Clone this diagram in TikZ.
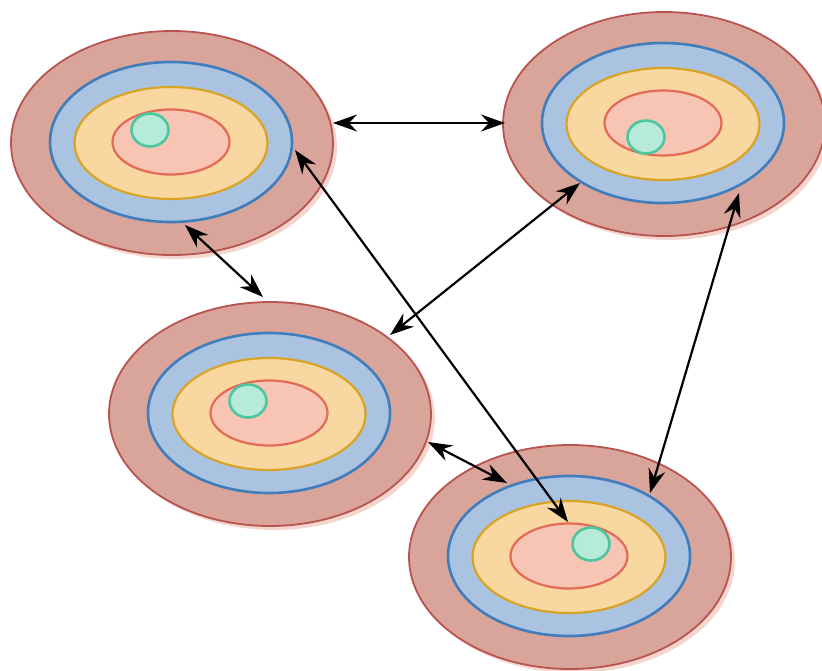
\documentclass[tikz,border=0pt]{standalone}
\usetikzlibrary{arrows.meta,shapes.geometric,calc}
\definecolor{ringO}{HTML}{D9A499}
\definecolor{ringOd}{HTML}{B85450}
\definecolor{ringB}{HTML}{A9C3E0}
\definecolor{ringBd}{HTML}{3F7DBD}
\definecolor{ringY}{HTML}{F8D7A0}
\definecolor{ringYd}{HTML}{D9A426}
\definecolor{ringR}{HTML}{F8C4B4}
\definecolor{ringRd}{HTML}{E26A56}
\definecolor{dotT}{HTML}{B6EBDA}
\definecolor{dotTd}{HTML}{4DC6A0}
\definecolor{shade}{HTML}{F5D6CF}
\tikzset{
  ring/.style={ellipse, inner sep=0pt, outer sep=0pt},
  outerring/.style={ring, fill=ringO, draw=ringOd, line width=1.8pt, minimum width=322pt, minimum height=224pt},
  shadowring/.style={ring, fill=shade, minimum width=322pt, minimum height=224pt},
  bluering/.style={ring, fill=ringB, draw=ringBd, line width=2.6pt, minimum width=242pt, minimum height=160pt},
  yellowring/.style={ring, fill=ringY, draw=ringYd, line width=2.2pt, minimum width=193pt, minimum height=112pt},
  redring/.style={ring, fill=ringR, draw=ringRd, line width=2.2pt, minimum width=117pt, minimum height=65pt},
  tealdot/.style={ring, fill=dotT, draw=dotTd, line width=2.6pt, minimum width=37pt, minimum height=33pt},
  link/.style={line width=2.2pt, black, {Stealth[length=24pt,width=17pt,inset=8pt]}-{Stealth[length=24pt,width=17pt,inset=8pt]}}
}
% one target: shadow, outer ring, blue, yellow and red rings, and a dot
\newcommand{\target}[4]{% name, centre x, centre y, dot offset
  \node[shadowring] at (#2+4,#3+4) {};
  \node[outerring] (#1o) at (#2,#3) {};
  \node[bluering] (#1b) at (#2-1,#3-1) {};
  \node[yellowring] (#1y) at (#2-1,#3) {};
  \node[redring] (#1r) at (#2-1,#3-1) {};
  \node[tealdot] (#1t) at ($(#2,#3)+#4$) {};
}
\begin{document}
\begin{tikzpicture}[x=1pt,y=-1pt]
\useasboundingbox (0,0) rectangle (822,670);
\target{A}{172}{143}{(-22,-13)}
\target{B}{664}{124}{(-18,13)}
\target{C}{270}{414}{(-22,-13)}
\target{D}{570}{557}{(21,-13)}
% connection end points
\coordinate (a1) at (333,123);
\coordinate (b1) at (505,123);
\coordinate (a2) at (185,225);
\coordinate (c2) at (263,297);
\coordinate (a3) at (295,150);
\coordinate (d3) at (568,522);
\coordinate (b4) at (580,183);
\coordinate (c4) at (390,335);
\coordinate (b5) at (739,193);
\coordinate (d5) at (650,493);
\coordinate (c6) at (428,442);
\coordinate (d6) at (507,483);
\draw[link] (a1) -- (b1);
\draw[link] (a2) -- (c2);
\draw[link] (a3) -- (d3);
\draw[link] (b4) -- (c4);
\draw[link] (b5) -- (d5);
\draw[link] (c6) -- (d6);
\end{tikzpicture}
\end{document}
